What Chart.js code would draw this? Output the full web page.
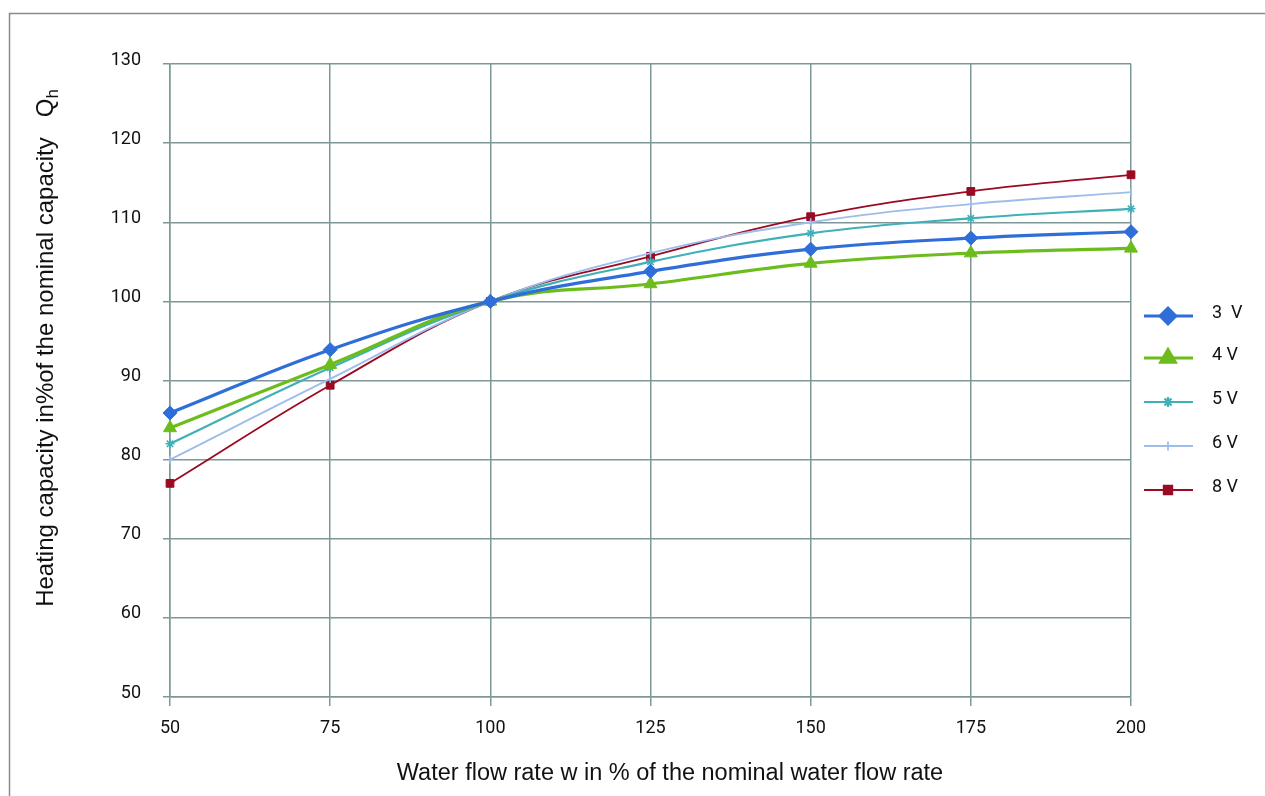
<!DOCTYPE html>
<html>
<head>
<meta charset="utf-8">
<script src="https://cdn.jsdelivr.net/npm/chart.js@4.4.1/dist/chart.umd.min.js"></script>
<style>
  html, body { margin: 0; padding: 0; background: #fff; }
  #wrap { width: 1265px; height: 796px; position: relative; }
</style>
</head>
<body>
<div id="wrap"><canvas id="chart"></canvas></div>
<script>
// flow rate in % of nominal
const flowRates = [50, 75, 100, 125, 150, 175, 200];
const xTicks = [50, 75, 100, 125, 150, 175, 200];
const yTicks = [50, 60, 70, 80, 90, 100, 110, 120, 130];

// heating capacity in % of nominal, per fan voltage
const cap3V = [85.9, 93.9, 100, 103.8, 106.6, 108.0, 108.8];
const cap4V = [84.0, 92.0, 100, 102.2, 104.8, 106.1, 106.7];
const cap5V = [82.0, 91.6, 100, 105.0, 108.6, 110.5, 111.7];
const cap6V = [80.0, 90.2, 100, 106.1, 110.0, 112.3, 113.8];
const cap8V = [77.0, 89.4, 100, 105.7, 110.7, 113.9, 116.0];

const seriesNames = ["3  V", "4 V", "5 V", "6 V", "8 V"];

const FONT = "Roboto, 'Liberation Sans', sans-serif";
const TITLE_FONT = "'Liberation Sans', Arial, sans-serif";
const gridColor = "#7f9797";

const mk = (label, data, color, width, style, radius, rot) => ({
  label,
  data: flowRates.map((x, i) => ({ x, y: data[i] })),
  borderColor: color,
  backgroundColor: color,
  borderWidth: width,
  pointStyle: style,
  pointRadius: radius,
  pointRotation: rot || 0,
  pointBorderWidth: style === "star" || style === "line" ? 1.6 : 1,
  tension: 0.4,
  fill: false,
  clip: false,
});

const datasets = [
  mk(seriesNames[0], cap3V, "#2f6ed8", 3.2, "rectRot", 7),
  mk(seriesNames[1], cap4V, "#6cbd1c", 3.2, "triangle", 7.5),
  mk(seriesNames[2], cap5V, "#3fb0b8", 2.2, "star", 4.5),
  mk(seriesNames[3], cap6V, "#9dbdec", 1.8, "line", 4, 90),
  mk(seriesNames[4], cap8V, "#9a0a22", 1.8, "rect", 5.5),
];

function drawMarker(ctx, ds, x, y) {
  Chart.helpers.drawPoint(ctx, {
    pointStyle: ds.pointStyle,
    rotation: ds.pointRotation,
    radius: ds.pointRadius * 1.1,
    borderWidth: ds.pointBorderWidth,
  }, x, y);
}

const extras = {
  id: "extras",
  beforeDraw(chart) {
    const ctx = chart.ctx;
    ctx.save();
    ctx.strokeStyle = "#8a8a8a";
    ctx.lineWidth = 1.5;
    ctx.beginPath();
    ctx.moveTo(9.5, 796);
    ctx.lineTo(9.5, 13.5);
    ctx.lineTo(1265, 13.5);
    ctx.stroke();
    ctx.restore();
  },
  afterDraw(chart) {
    const ctx = chart.ctx;
    ctx.save();
    // legend
    const legendY = [316, 358, 402, 446, 490];
    chart.data.datasets.forEach((ds, i) => {
      const y = legendY[i];
      ctx.strokeStyle = ds.borderColor;
      ctx.fillStyle = ds.backgroundColor;
      ctx.lineWidth = ds.borderWidth;
      ctx.beginPath();
      ctx.moveTo(1144, y);
      ctx.lineTo(1193, y);
      ctx.stroke();
      drawMarker(ctx, ds, 1168, y);
      ctx.fillStyle = "#111";
      ctx.font = "18px " + FONT;
      ctx.textBaseline = "middle";
      ctx.textAlign = "left";
      ctx.fillText(ds.label, 1212, y - 3);
    });

    // x title
    ctx.fillStyle = "#111";
    ctx.font = "23.5px " + TITLE_FONT;
    ctx.textAlign = "center";
    ctx.textBaseline = "middle";
    ctx.fillText("Water flow rate w in % of the nominal water flow rate", 670, 774);

    // y title with subscript
    ctx.translate(46, 348);
    ctx.rotate(-Math.PI / 2);
    const main = "Heating capacity in%of the nominal capacity   Q";
    ctx.font = "24px " + TITLE_FONT;
    const wMain = ctx.measureText(main).width;
    ctx.font = "17px " + TITLE_FONT;
    const wSub = ctx.measureText("h").width;
    const total = wMain + wSub;
    ctx.textAlign = "left";
    ctx.font = "24px " + TITLE_FONT;
    ctx.fillText(main, -total / 2, 0);
    ctx.font = "17px " + TITLE_FONT;
    ctx.fillText("h", -total / 2 + wMain, 7);
    ctx.restore();
  },
};

new Chart(document.getElementById("chart"), {
  type: "line",
  data: { datasets },
  options: {
    responsive: true,
    maintainAspectRatio: false,
    animation: false,
    layout: { padding: { left: 0, right: 134, top: 64, bottom: 0 } },
    plugins: { legend: { display: false }, tooltip: { enabled: false } },
    scales: {
      x: {
        type: "linear",
        min: 50,
        max: 200,
        afterBuildTicks: (s) => { s.ticks = xTicks.map((v) => ({ value: v })); },
        afterFit: (s) => { s.height = 99; },
        grid: { color: gridColor, lineWidth: 1.5, tickLength: 9 },
        border: { color: gridColor, width: 1.5 },
        ticks: { color: "#111", font: { family: FONT, size: 18 }, padding: 12, maxRotation: 0 },
      },
      y: {
        min: 50,
        max: 130,
        afterBuildTicks: (s) => { s.ticks = yTicks.map((v) => ({ value: v })); },
        afterFit: (s) => { s.width = 170; },
        grid: { color: gridColor, lineWidth: 1.5, tickLength: 7 },
        border: { color: gridColor, width: 1.5 },
        ticks: { color: "#111", font: { family: FONT, size: 18 }, padding: 22, labelOffset: -4 },
      },
    },
  },
  plugins: [extras],
});
</script>
</body>
</html>
